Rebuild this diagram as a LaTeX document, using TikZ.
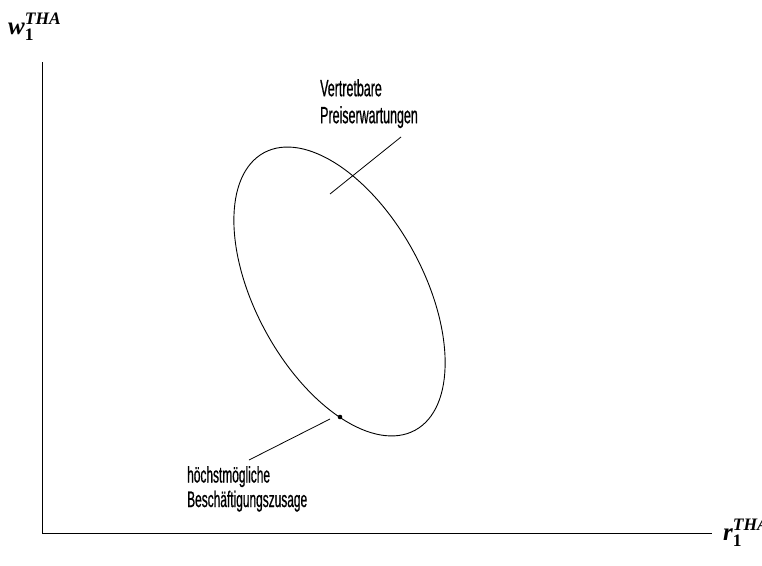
\documentclass[tikz,border=0pt]{standalone}
\usepackage{amsmath}
\usepackage{fontspec}
\newfontfamily\condfont[FakeStretch=0.53,FakeBold=0.6]{Liberation Sans}
\newfontfamily\tnrfont{Liberation Serif}
\begin{document}
\begin{tikzpicture}[x=1pt,y=-1pt,
  axis/.style={line width=0.9pt},
  curve/.style={line width=0.9pt},
  pointer/.style={line width=0.8pt},
  lbl/.style={font=\condfont\fontsize{23.5}{27}\selectfont, align=left, inner sep=0pt},
  axlbl/.style={font=\tnrfont\fontsize{25}{28}\selectfont\bfseries\itshape, inner sep=0pt}]
\useasboundingbox (0,0) rectangle (762,565);
% axes
\coordinate (origin) at (42,533);
\coordinate (ytop) at (42,62);
\coordinate (xend) at (712,533);
\draw[axis] (ytop) -- (origin) -- (xend);
\node[axlbl, anchor=base west] (wlabel) at (8,34) {w$_{\text{\tnrfont\bfseries\upshape 1}}^{\text{\tnrfont\bfseries\itshape THA}}$};
\node[axlbl, anchor=base west] (rlabel) at (723,540) {r$_{\text{\tnrfont\bfseries\upshape 1}}^{\text{\tnrfont\bfseries\itshape THA}}$};
% ellipse
\coordinate (c) at (339.5,291.5);
\draw[curve, rotate around={-61.4:(c)}] (c) ellipse [x radius=158pt, y radius=84pt];
% point
\coordinate (dot) at (340,417);
\fill (dot) circle (2.3pt);
% labels
\node[lbl, anchor=north west] (upper) at (320,79) {Vertretbare\\Preiserwartungen};
\node[lbl, anchor=north west, font=\condfont\fontsize{22.5}{24.5}\selectfont] (lower) at (187,466) {höchstmögliche\\Beschäftigungszusage};
% pointers
\coordinate (p1a) at (330,194);
\coordinate (p1b) at (401,137);
\draw[pointer] (p1a) -- (p1b);
\coordinate (p2a) at (249,460);
\coordinate (p2b) at (330,419);
\draw[pointer] (p2a) -- (p2b);
\end{tikzpicture}
\end{document}
